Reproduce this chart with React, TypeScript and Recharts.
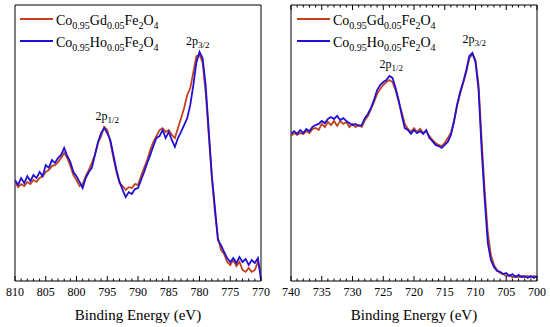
import React from 'react';
import { LineChart, Line, XAxis, YAxis, ReferenceDot, ReferenceArea } from 'recharts';

// binding energy grids (0.5 eV steps, high -> low)
const leftEnergy = Array.from({ length: 81 }, (_, i) => 810 - i * 0.5);
const rightEnergy = Array.from({ length: 81 }, (_, i) => 740 - i * 0.5);

// Fe 2p region, left panel (810 -> 770 eV)
const leftGd = [
  35.9, 34, 35.1, 34.4, 35.9, 35.1, 36.6, 35.9, 37.3, 38,
  39.5, 40.2, 41.7, 42, 43.1, 44.6, 46.4, 44.6, 41.7, 38.4,
  36.6, 34.4, 35.1, 38, 40.2, 42.8, 45.7, 50, 52.5, 55.8,
  54.7, 50.4, 44.6, 39.5, 35.5, 34.4, 33, 34, 33.7, 35.1,
  34.8, 38, 41, 43.8, 47.5, 50.4, 52.5, 54.7, 55.4, 54,
  54.7, 52.9, 51.8, 55.4, 59, 62.7, 67.4, 69.9, 75.7, 81.5,
  81.9, 79.3, 68.5, 52.9, 37.7, 25, 15.6, 11.2, 9.8, 6.9,
  5.8, 7.6, 5.4, 6.9, 4, 3.3, 4.7, 3.3, 4, 6.9, 3,
];
const leftHo = [
  36.6, 34.8, 37.3, 35.5, 38, 36.2, 38.4, 37.3, 39.5, 38,
  42, 41, 43.8, 42.8, 44.6, 45.7, 48.2, 45.3, 43.1, 39.5,
  38, 35.9, 33.7, 37.3, 39.5, 41, 45.7, 50.4, 53.6, 55.4,
  53.6, 51.1, 45.7, 40.2, 35.9, 33, 30.4, 32.2, 31.5, 33.3,
  33.7, 36.6, 39.5, 42.8, 45.7, 48.9, 51.8, 52.5, 54.7, 51.8,
  54, 51.1, 48.6, 51.8, 54, 56.5, 59, 63.8, 71, 79.3,
  83, 80.8, 71, 54.7, 38.4, 26.8, 14.9, 13, 10.5, 8.3,
  6.9, 8.3, 6.5, 8.7, 6.9, 8, 5.8, 7.6, 6.5, 8.3, 0.4,
];

// right panel (740 -> 700 eV)
const rightGd = [
  52.5, 53.6, 52.9, 53.6, 53.3, 54.3, 53.6, 55.1, 55.4, 54.7,
  56.9, 55.8, 57.6, 56.5, 58, 56.2, 58, 56.9, 57.6, 55.8,
  56.9, 55.8, 56.5, 55.8, 58.3, 59.8, 62.3, 64.9, 67.8, 69.6,
  71, 72.1, 72.8, 72.1, 69.2, 64.9, 61.2, 56.9, 55.1, 54,
  55.4, 54, 55.1, 53.6, 54.3, 52.5, 51.1, 50, 49.3, 48.9,
  50, 51.8, 53.6, 58, 63.4, 67.8, 71.7, 75.7, 80.8, 82.2,
  80.1, 71, 51.1, 32.6, 17.4, 9.4, 5.8, 4, 2.9, 2.5,
  1.8, 2.2, 1.4, 1.8, 1.4, 1.8, 1.4, 1.8, 1.4, 1.8, 1.4,
];
const rightHo = [
  53.3, 54.3, 53.3, 54.7, 53.6, 55.1, 54.3, 55.8, 56.5, 56.9,
  58, 57.2, 58.7, 59.4, 58.7, 59.8, 58.3, 59, 58, 57.2,
  56.5, 56.9, 56.2, 56.5, 59, 60.5, 62.7, 65.6, 69.2, 71,
  72.1, 72.8, 74.3, 73.6, 69.9, 65.6, 60.1, 55.4, 54.7, 53.3,
  54.7, 53.6, 54.3, 53.3, 54.7, 51.8, 50.7, 49.3, 48.9, 48.2,
  49.3, 50.4, 52.9, 57.6, 63.8, 68.5, 72.1, 76.4, 81.5, 82.6,
  79.3, 69.2, 47.5, 29.3, 13.8, 7.6, 5.1, 3.6, 3.3, 2.5,
  2.9, 1.8, 2.5, 1.4, 2.2, 1.4, 1.8, 1.1, 1.8, 1.1, 1.8,
];

const gdName: [string, boolean][] = [
  ['Co', false], ['0.95', true], ['Gd', false], ['0.05', true],
  ['Fe', false], ['2', true], ['O', false], ['4', true],
];
const hoName: [string, boolean][] = [
  ['Co', false], ['0.95', true], ['Ho', false], ['0.05', true],
  ['Fe', false], ['2', true], ['O', false], ['4', true],
];

const leftPeaks = [
  { x: 795, y: 58.3, sub: '1/2' },
  { x: 780.3, y: 85.5, sub: '3/2' },
];
const rightPeaks = [
  { x: 723.7, y: 77.2, sub: '1/2' },
  { x: 710.2, y: 86.2, sub: '3/2' },
];

const RED = '#c2411c';
const BLUE = '#2111d4';
const FONT = '"Liberation Serif", "Times New Roman", serif';
const PLOT_TOP = 5;
const PLOT_BOTTOM = 281;

const drawTick = (props: any, mirrorTop: boolean) => {
  const { x, payload } = props;
  const major = payload.value % 5 === 0;
  const len = major ? 5 : 2.5;
  return (
    <g key={`t-${payload.value}`}>
      <line x1={x} y1={PLOT_BOTTOM} x2={x} y2={PLOT_BOTTOM - len} stroke="#000" strokeWidth={1} />
      {mirrorTop ? <line x1={x} y1={PLOT_TOP} x2={x} y2={PLOT_TOP + len} stroke="#000" strokeWidth={1} /> : null}
      {major ? (
        <text x={x} y={PLOT_BOTTOM + 15} textAnchor="middle" fontSize={12} fill="#000">
          {payload.value}
        </text>
      ) : null}
    </g>
  );
};
const bottomOnlyTick = (props: any) => drawTick(props, false);
const bothEdgesTick = (props: any) => drawTick(props, true);

const peakLabel = (sub: string) => (props: any) => {
  const { viewBox } = props;
  return (
    <text x={viewBox.x} y={viewBox.y} textAnchor="middle" fontSize={12} fill="#000">
      2p<tspan fontSize={9} dy={3}>{sub}</tspan>
    </text>
  );
};

const Formula = ({ parts, x, y }: { parts: [string, boolean][]; x: number; y: number }) => {
  let prev = false;
  return (
    <text x={x} y={y} fontSize={14} fill="#000">
      {parts.map(([t, sub], i) => {
        const dy = sub === prev ? 0 : sub ? 3.5 : -3.5;
        prev = sub;
        return (
          <tspan key={i} fontSize={sub ? 10 : 14} dy={dy}>
            {t}
          </tspan>
        );
      })}
    </text>
  );
};

const LegendBox = ({ lineX }: { lineX: number }) => (
  <svg width={240} height={52} style={{ position: 'absolute', left: 0, top: 8, pointerEvents: 'none' }}>
    <line x1={lineX} y1={11} x2={lineX + 33} y2={11} stroke={RED} strokeWidth={1.8} />
    <Formula parts={gdName} x={lineX + 36} y={17} />
    <line x1={lineX} y1={33} x2={lineX + 33} y2={33} stroke={BLUE} strokeWidth={1.8} />
    <Formula parts={hoName} x={lineX + 36} y={39} />
  </svg>
);

type PanelProps = {
  energy: number[];
  gd: number[];
  ho: number[];
  domain: [number, number];
  peaks: { x: number; y: number; sub: string }[];
  topTicks: boolean;
  marginLeft: number;
  marginRight: number;
  legendX: number;
};

const Panel = ({ energy, gd, ho, domain, peaks, topTicks, marginLeft, marginRight, legendX }: PanelProps) => {
  const data = energy.map((e, i) => ({ energy: e, gd: gd[i], ho: ho[i] }));
  const ticks = Array.from({ length: domain[1] - domain[0] + 1 }, (_, i) => domain[0] + i);
  return (
    <div style={{ position: 'relative', width: 275, height: 327 }}>
      <LineChart
        width={275}
        height={327}
        data={data}
        margin={{ top: PLOT_TOP, right: marginRight, bottom: 0, left: marginLeft }}
      >
        <YAxis yAxisId="left" domain={[0, 100]} hide allowDataOverflow />
        <ReferenceArea
          xAxisId="bottom"
          yAxisId="left"
          x1={domain[0]}
          x2={domain[1]}
          y1={0}
          y2={100}
          fill="none"
          fillOpacity={0}
          stroke="#000"
          strokeWidth={1}
          strokeOpacity={1}
          ifOverflow="visible"
        />
        <Line
          xAxisId="bottom"
          yAxisId="left"
          dataKey="gd"
          stroke={RED}
          strokeWidth={1.8}
          dot={false}
          type="linear"
          isAnimationActive={false}
        />
        <Line
          xAxisId="bottom"
          yAxisId="left"
          dataKey="ho"
          stroke={BLUE}
          strokeWidth={1.8}
          dot={false}
          type="linear"
          isAnimationActive={false}
        />
        {peaks.map((p) => (
          <ReferenceDot
            key={p.sub}
            xAxisId="bottom"
            yAxisId="left"
            x={p.x}
            y={p.y}
            r={0}
            stroke="none"
            fill="none"
            label={peakLabel(p.sub)}
          />
        ))}
        <XAxis
          xAxisId="bottom"
          dataKey="energy"
          type="number"
          domain={domain}
          reversed
          ticks={ticks}
          interval={0}
          tick={topTicks ? bothEdgesTick : bottomOnlyTick}
          tickLine={false}
          tickSize={0}
          tickMargin={0}
          height={46}
          axisLine={false}
          allowDataOverflow
          label={{ value: 'Binding Energy (eV)', position: 'insideBottom', offset: 7, fontSize: 15, fill: '#000' }}
        />
      </LineChart>
      <LegendBox lineX={legendX} />
    </div>
  );
};

export default function App() {
  return (
    <div
      style={{
        position: 'absolute',
        left: 0,
        top: 0,
        width: 550,
        height: 327,
        display: 'flex',
        background: '#fff',
        fontFamily: FONT,
      }}
    >
      <style>{`svg text, svg tspan { font-family: "Liberation Serif", "Times New Roman", serif !important; }`}</style>
      <Panel
        energy={leftEnergy}
        gd={leftGd}
        ho={leftHo}
        domain={[770, 810]}
        peaks={leftPeaks}
        topTicks={false}
        marginLeft={15}
        marginRight={14}
        legendX={20}
      />
      <Panel
        energy={rightEnergy}
        gd={rightGd}
        ho={rightHo}
        domain={[700, 740]}
        peaks={rightPeaks}
        topTicks
        marginLeft={16}
        marginRight={13}
        legendX={22}
      />
    </div>
  );
}
